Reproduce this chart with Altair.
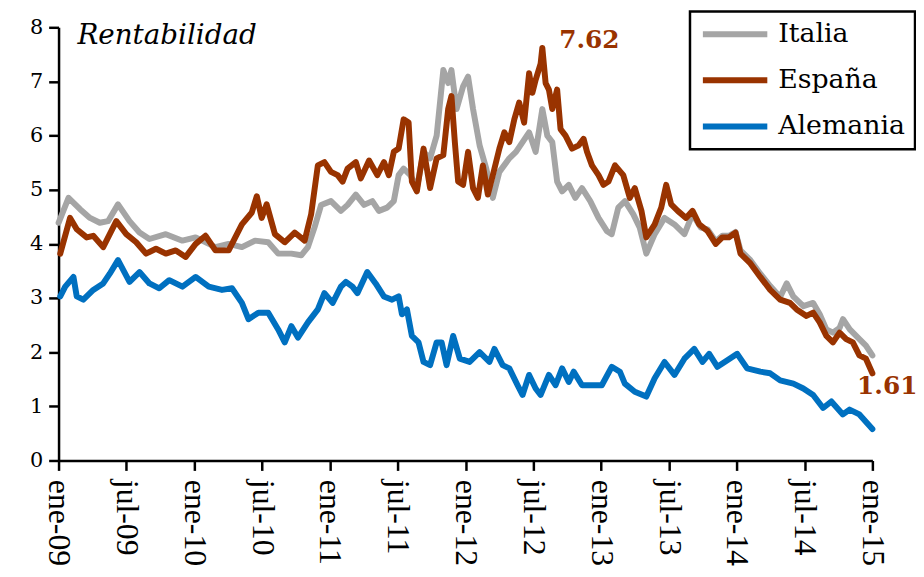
import altair as alt
import pandas as pd

# ---------------- data ----------------
series_names = ["Italia", "España", "Alemania"]
series_colors = ["#A5A5A5", "#993300", "#0070C0"]

# months since January 2009
italia_mes = [0.0, 0.88, 1.90, 2.78, 3.65, 4.38, 5.26, 6.28, 7.16, 8.04, 9.49, 10.96, 12.13,
              13.88, 15.05, 16.22, 17.38, 18.55, 19.43, 20.60, 21.47, 22.06, 22.64, 23.23,
              24.10, 24.98, 25.57, 26.30, 27.03, 27.76, 28.34, 29.07, 29.66, 30.09, 30.53,
              31.12, 31.70, 32.29, 32.87, 33.45, 34.04, 34.47, 34.76, 35.21, 35.79, 36.23,
              36.67, 37.25, 37.84, 38.42, 39.00, 39.88, 40.47, 41.05, 41.63, 42.21, 42.80,
              43.24, 43.68, 44.11, 44.55, 45.14, 45.72, 46.31, 47.04, 47.77, 48.50, 48.94,
              49.52, 50.11, 50.84, 51.42, 52.00, 52.74, 53.61, 54.49, 55.37, 56.09, 56.83,
              57.41, 58.14, 58.72, 59.31, 59.89, 60.33, 61.21, 62.08, 62.96, 63.84, 64.42,
              65.00, 65.89, 66.76, 67.34, 67.93, 68.51, 69.10, 69.40, 70.00, 70.85, 71.43, 72.00]
italia_valor = [4.39, 4.85, 4.64, 4.48, 4.39, 4.42, 4.73, 4.42, 4.21, 4.09, 4.18, 4.06, 4.12,
                3.94, 4.00, 3.94, 4.06, 4.03, 3.82, 3.82, 3.79, 3.94, 4.30, 4.72,
                4.79, 4.61, 4.72, 4.91, 4.72, 4.79, 4.61, 4.67, 4.79, 5.27, 5.39,
                5.27, 5.03, 5.70, 5.58, 6.00, 7.21, 6.97, 7.21, 6.49, 6.91, 7.09,
                6.49, 5.82, 5.39, 4.85, 5.33, 5.58, 5.70, 5.88, 6.06, 5.70, 6.49,
                6.00, 5.88, 5.15, 4.97, 5.09, 4.85, 5.03, 4.79, 4.48, 4.24, 4.18,
                4.67, 4.79, 4.55, 4.30, 3.82, 4.18, 4.48, 4.36, 4.18, 4.55, 4.30,
                4.27, 4.05, 4.15, 4.15, 4.22, 3.88, 3.70, 3.45, 3.22, 3.02, 3.27,
                3.03, 2.85, 2.91, 2.70, 2.42, 2.36, 2.45, 2.61, 2.42, 2.24, 2.12, 1.94]

espana_mes = [0.15, 1.02, 1.61, 2.49, 3.07, 3.95, 5.11, 5.99, 6.87, 7.74, 8.62, 9.49, 10.37,
              11.25, 12.13, 13.00, 13.88, 15.05, 16.22, 17.10, 17.54, 17.97, 18.41, 19.14,
              20.01, 20.89, 21.77, 22.35, 22.94, 23.52, 24.10, 24.69, 25.13, 25.57, 26.30,
              26.74, 27.47, 28.20, 28.79, 29.22, 29.66, 30.09, 30.53, 30.97, 31.26, 31.70,
              32.29, 32.87, 33.45, 34.04, 34.47, 34.76, 35.06, 35.35, 35.79, 36.23, 36.67,
              37.10, 37.54, 37.98, 38.42, 39.00, 39.44, 39.88, 40.32, 40.75, 41.19, 41.63,
              41.92, 42.21, 42.65, 42.80, 43.09, 43.38, 43.68, 44.11, 44.41, 44.85, 45.43,
              46.02, 46.45, 46.75, 47.19, 47.77, 48.21, 48.65, 49.23, 49.96, 50.54, 50.98,
              51.57, 52.00, 52.74, 53.32, 53.76, 54.20, 54.78, 55.51, 56.09, 56.68, 57.41,
              58.14, 58.72, 59.31, 59.89, 60.33, 61.21, 62.08, 62.96, 63.84, 64.71, 65.30,
              66.17, 66.76, 67.34, 67.93, 68.51, 69.10, 69.68, 70.27, 70.85, 71.43, 72.00]
espana_valor = [3.82, 4.48, 4.27, 4.12, 4.15, 3.94, 4.42, 4.18, 4.03, 3.82, 3.91, 3.82, 3.88,
                3.76, 4.00, 4.15, 3.88, 3.88, 4.36, 4.58, 4.88, 4.48, 4.73, 4.18,
                4.03, 4.21, 4.06, 4.55, 5.45, 5.51, 5.33, 5.27, 5.15, 5.39, 5.51,
                5.21, 5.54, 5.27, 5.51, 5.27, 5.70, 5.76, 6.30, 6.24, 5.15, 4.97,
                5.76, 5.03, 5.58, 5.64, 6.49, 6.73, 5.88, 5.15, 5.09, 5.70, 5.03,
                4.85, 5.45, 4.91, 5.27, 5.76, 6.06, 5.88, 6.30, 6.61, 6.24, 7.15,
                6.79, 7.03, 7.33, 7.62, 6.97, 6.85, 6.49, 6.85, 6.12, 6.00, 5.76,
                5.82, 5.94, 5.70, 5.45, 5.27, 5.09, 5.15, 5.45, 5.27, 4.85, 5.03,
                4.61, 4.12, 4.36, 4.67, 5.09, 4.73, 4.61, 4.48, 4.61, 4.36, 4.24,
                4.00, 4.12, 4.12, 4.21, 3.82, 3.64, 3.39, 3.15, 2.97, 2.91, 2.79,
                2.67, 2.73, 2.55, 2.30, 2.18, 2.36, 2.24, 2.18, 1.94, 1.88, 1.61]

alemania_mes = [0.15, 0.59, 1.32, 1.61, 2.19, 3.07, 3.95, 4.53, 5.26, 6.28, 7.16, 8.04, 8.91,
                9.79, 10.96, 12.13, 13.29, 14.46, 15.34, 16.22, 16.80, 17.68, 18.55, 19.43,
                20.01, 20.60, 21.18, 22.06, 22.94, 23.52, 24.25, 24.98, 25.42, 26.00, 26.44,
                27.31, 28.05, 28.78, 29.51, 30.09, 30.38, 30.82, 31.26, 31.85, 32.29, 32.87,
                33.45, 33.89, 34.33, 34.91, 35.50, 36.37, 37.25, 38.12, 38.56, 39.29, 39.88,
                40.61, 41.05, 41.63, 42.21, 42.65, 43.38, 43.97, 44.55, 45.14, 45.57, 46.31,
                47.19, 48.06, 48.94, 49.66, 50.10, 50.98, 52.00, 52.74, 53.61, 54.49, 55.37,
                56.24, 56.97, 57.56, 58.29, 59.17, 60.04, 60.92, 62.09, 62.96, 63.84, 65.01,
                65.89, 66.76, 67.64, 68.37, 69.39, 69.98, 70.85, 72.00]
alemania_valor = [3.03, 3.21, 3.39, 3.03, 2.97, 3.15, 3.27, 3.45, 3.70, 3.30, 3.48, 3.27, 3.18,
                  3.33, 3.21, 3.39, 3.21, 3.15, 3.18, 2.91, 2.61, 2.73, 2.73, 2.42,
                  2.18, 2.48, 2.27, 2.55, 2.79, 3.09, 2.91, 3.21, 3.30, 3.21, 3.09,
                  3.48, 3.27, 3.03, 2.97, 3.03, 2.70, 2.79, 2.30, 2.18, 1.82, 1.76,
                  2.18, 2.18, 1.76, 2.30, 1.88, 1.82, 2.00, 1.82, 2.06, 1.76, 1.70,
                  1.39, 1.21, 1.58, 1.33, 1.21, 1.58, 1.39, 1.70, 1.45, 1.64, 1.39,
                  1.39, 1.39, 1.73, 1.64, 1.42, 1.27, 1.18, 1.52, 1.82, 1.58, 1.88,
                  2.06, 1.82, 1.97, 1.73, 1.85, 1.97, 1.70, 1.64, 1.61, 1.48, 1.42,
                  1.33, 1.21, 0.97, 1.09, 0.85, 0.94, 0.85, 0.58]

tick_meses = [0, 6, 12, 18, 24, 30, 36, 42, 48, 54, 60, 66, 72]
y_ticks = [0, 1, 2, 3, 4, 5, 6, 7, 8]

anno_mes = [42.80, 72.00]
anno_valor = [7.62, 1.61]
anno_texto = ["7.62", "1.61"]

titulo = ["Rentabilidad"]

# ---------------- build table ----------------
rows = []
for name, ms, vs in [("Italia", italia_mes, italia_valor),
                     ("España", espana_mes, espana_valor),
                     ("Alemania", alemania_mes, alemania_valor)]:
    for m, v in zip(ms, vs):
        rows.append({"serie": name, "mes": m, "valor": v})
df = pd.DataFrame(rows)
anno = pd.DataFrame({"mes": anno_mes, "valor": anno_valor, "texto": anno_texto})
title_df = pd.DataFrame({"t": titulo})

label_expr = ("(datum.value % 12 == 0 ? 'ene-' : 'jul-') + "
              "(floor(datum.value / 12) + 9 < 10 ? '0' : '') + "
              "toString(floor(datum.value / 12) + 9)")

x = alt.X("mes:Q", title=None,
          scale=alt.Scale(domain=[0, 72], nice=False, zero=False),
          axis=alt.Axis(values=tick_meses, labelExpr=label_expr, labelAngle=90,
                        labelFont="Liberation Serif", labelFontSize=32, labelPadding=9,
                        labelOverlap=False, labelBound=False, labelFlush=False))
y = alt.Y("valor:Q", title=None,
          scale=alt.Scale(domain=[0, 8], nice=False),
          axis=alt.Axis(values=y_ticks, labelFont="DejaVu Serif", labelFontSize=21,
                        labelPadding=6))
color = alt.Color("serie:N",
                  scale=alt.Scale(domain=series_names, range=series_colors),
                  legend=alt.Legend(title=None, orient="none", legendX=637, legendY=-16,
                                    symbolType="stroke", symbolSize=4225,
                                    symbolStrokeWidth=6,
                                    labelFont="DejaVu Serif",
                                    labelFontSize=27, labelColor="black", labelOffset=8,
                                    strokeColor="black", fillColor="white", padding=10,
                                    clipHeight=26, rowPadding=19.5))

lines = [
    alt.Chart(df).transform_filter(alt.datum.serie == n)
    .mark_line(strokeWidth=6, strokeJoin="round", strokeCap="round")
    .encode(x=x, y=y, color=color)
    for n in series_names
]

t1 = alt.Chart(anno.iloc[[0]]).mark_text(
    font="DejaVu Serif", fontWeight="bold", fontSize=25, color="#993300",
    align="left", baseline="middle", dx=17, dy=-8).encode(x=x, y=y, text="texto:N")
t2 = alt.Chart(anno.iloc[[1]]).mark_text(
    font="DejaVu Serif", fontWeight="bold", fontSize=25, color="#993300",
    align="center", baseline="middle", dx=15, dy=13).encode(x=x, y=y, text="texto:N")

title_mark = alt.Chart(title_df).mark_text(
    font="DejaVu Serif", fontStyle="italic", fontSize=28, color="black",
    align="left", baseline="alphabetic").encode(
    x=alt.value(19), y=alt.value(17), text="t:N")

chart = alt.layer(*lines, t1, t2, title_mark).properties(
    width=821, height=437,
    autosize=alt.AutoSizeParams(type="none"),
    padding={"left": 51, "top": 17, "right": 44, "bottom": 107},
).configure_view(stroke=None).configure_axis(
    grid=False, domainColor="black", domainWidth=2.5, tickColor="black",
    tickWidth=2.5, tickSize=10, labelColor="black"
).configure_legend(strokeWidth=2.5)

chart.save("out.html", embed_options={"renderer": "svg", "actions": False})
